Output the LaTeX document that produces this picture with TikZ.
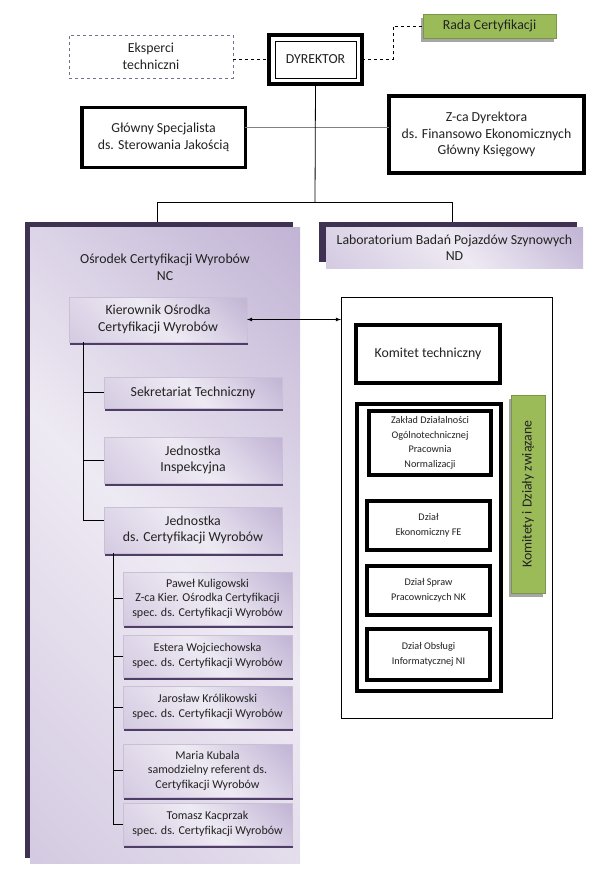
\documentclass[tikz,border=0pt]{standalone}
\usepackage{fontspec}
\setmainfont{Carlito}
\usepackage{xcolor}
\usepackage{tikz}
\usetikzlibrary{arrows,positioning,shadows}

\definecolor{txt}{HTML}{222222}
\definecolor{pdeep}{HTML}{3F3151}
\definecolor{pshadow}{HTML}{4E3D66}
\definecolor{pmid}{HTML}{C9BDDA}
\definecolor{plight}{HTML}{EEEAF3}
\definecolor{pdark}{HTML}{AE9DC8}
\definecolor{pedge}{HTML}{C9C0D6}
\definecolor{olive}{HTML}{9BBB59}
\definecolor{dashc}{HTML}{76708A}

\pgfdeclarehorizontalshading{violetgrad}{100bp}{color(0bp)=(pmid); color(50bp)=(plight); color(100bp)=(pdark)}

\tikzset{
  every node/.style={text=txt, align=center, inner sep=0pt, outer sep=0pt},
  bigtext/.style={font=\fontsize{13.8}{16.5}\selectfont},
  smalltext/.style={font=\fontsize{10.2}{14.5}\selectfont},
  persontext/.style={font=\fontsize{12}{14.5}\selectfont},
  heavybox/.style={draw=black, line width=3.8pt, fill=white},
  violetbox/.style={shading=violetgrad, shading angle=45, draw=pedge, line width=0.4pt,
    drop shadow={shadow xshift=1.2pt, shadow yshift=-2.5pt, fill=pshadow, opacity=1}},
  violetback/.style={fill=pdeep},
  olivebox/.style={fill=olive, draw=olive!80!black, line width=0.3pt,
    drop shadow={shadow xshift=-2pt, shadow yshift=-4pt, fill=black!35, opacity=1}},
  link/.style={draw=black, line width=0.8pt}
}

\begin{document}
\begin{tikzpicture}[x=1pt,y=-1pt]
\useasboundingbox (0,0) rectangle (601,872);

% top row
\node[bigtext, draw=dashc, dashed, line width=0.7pt, minimum width=164, minimum height=43] (eksp) at (151,56.5) {Eksperci\\techniczni};
\node[bigtext, heavybox, line width=4pt, minimum width=93, minimum height=49] (dyr) at (315.5,59.5) {DYREKTOR};
\draw[line width=0.8pt] ([shift={(6,6)}]dyr.north west) rectangle ([shift={(-6,-6)}]dyr.south east);
\node[bigtext, olivebox, minimum width=133, minimum height=24] (rada) at (489.5,26) {Rada Certyfikacji};

\draw[link, dashed] (eksp.east |- dyr) -- (dyr.west);
\coordinate (rd) at (393,0);
\draw[link, dashed] (dyr.east) -| (rd |- rada) -- (rada.west);

% second row
\node[bigtext, heavybox, line width=3.5pt, minimum width=163.5, minimum height=59.5] (glowny) at (163.5,137.5) {G{\l}ówny Specjalista\\ds. Sterowania Jakości{\k a}};
\node[bigtext, heavybox, minimum width=195, minimum height=77] (zca) at (486.5,134.5) {Z-ca Dyrektora\\ds. Finansowo Ekonomicznych\\G{\l}ówny Księgowy};

\coordinate (hz) at (315,127);
\draw[gray, line width=0.8pt] (hz -| glowny.east) -- (hz -| zca.west);

% left panel
\node[violetback, minimum width=268, minimum height=636] (osrback) at (159,540) {};
\node[shading=violetgrad, shading angle=45, minimum width=270, minimum height=636] (osr) at (165,545) {};
\node[bigtext] (osrtitle) at (165,267.5) {Ośrodek Certyfikacji Wyrobów\\NC};

% laboratory
\node[violetback, minimum width=258, minimum height=40] (labback) at (448,242) {};
\node[bigtext, shading=violetgrad, shading angle=45, minimum width=257, minimum height=41] (lab) at (454.5,247.5) {Laboratorium Badań Pojazdów Szynowych\\ND};

% connectors from director
\coordinate (jn) at (315,202);
\coordinate (jl) at (157,202);
\coordinate (jr) at (452,202);
\draw[link] (dyr.south) -- (jn);
\draw[link] (jl |- osrback.north) -- (jl) -- (jr) -- (jr |- labback.north);

% certification centre
\node[bigtext, violetbox, minimum width=178, minimum height=45] (kier) at (158,319.5) {Kierownik Ośrodka\\Certyfikacji Wyrobów};
\node[bigtext, violetbox, minimum width=178, minimum height=31] (sekr) at (193,392.5) {Sekretariat Techniczny};
\node[bigtext, violetbox, minimum width=178, minimum height=46] (insp) at (193,460) {Jednostka\\Inspekcyjna};
\node[bigtext, violetbox, minimum width=178, minimum height=46] (jcw) at (193,530) {Jednostka\\ds. Certyfikacji Wyrobów};

\coordinate (t1) at (83,0);
\draw[link] (kier.south -| t1) |- (sekr.west);
\draw[link] (kier.south -| t1) |- (insp.west);
\draw[link] (kier.south -| t1) |- ([yshift=10pt]jcw.west);

% staff
\node[persontext, violetbox, minimum width=169, minimum height=53] (pk) at (207.5,598.5) {Paweł Kuligowski\\Z-ca Kier. Ośrodka Certyfikacji\\spec. ds. Certyfikacji Wyrobów};
\node[persontext, violetbox, minimum width=169, minimum height=42] (ew) at (207.5,656) {Estera Wojciechowska\\spec. ds. Certyfikacji Wyrobów};
\node[persontext, violetbox, minimum width=169, minimum height=42] (jk) at (207.5,707) {Jarosław Królikowski\\spec. ds. Certyfikacji Wyrobów};
\node[persontext, violetbox, minimum width=169, minimum height=53] (mk) at (207.5,770.5) {Maria Kubala\\samodzielny referent ds.\\Certyfikacji Wyrobów};
\node[persontext, violetbox, minimum width=169, minimum height=42] (tk) at (207.5,824) {Tomasz Kacprzak\\spec. ds. Certyfikacji Wyrobów};

\coordinate (t2) at (113,0);
\foreach \p in {pk,ew,jk,mk,tk}
  \draw[link] (jcw.south -| t2) |- (\p.west);

% committees
\node[draw=black, line width=0.8pt, fill=white, minimum width=211, minimum height=421] (rpanel) at (446.5,507.5) {};
\draw[link, latex-latex] (kier.east) -- (kier.east -| rpanel.west);

\node[bigtext, heavybox, minimum width=144, minimum height=58] (komt) at (428,354) {Komitet techniczny};
\node[heavybox, minimum width=144, minimum height=287] (dzialy) at (429,547.5) {};
\node[smalltext, heavybox, line width=3.5pt, minimum width=122, minimum height=64] (zakl) at (430,443) {Zakład Działalności\\Ogólnotechnicznej\\Pracownia\\Normalizacji};
\node[smalltext, heavybox, line width=3.5pt, minimum width=123, minimum height=49] (ekon) at (428.5,525.5) {Dział\\Ekonomiczny FE};
\node[smalltext, heavybox, line width=3.5pt, minimum width=123, minimum height=49] (kadr) at (428.5,590.5) {Dział Spraw\\Pracowniczych NK};
\node[smalltext, heavybox, line width=3.5pt, minimum width=123, minimum height=51] (inf) at (428.5,654.5) {Dział Obsługi\\Informatycznej NI};

\node[bigtext, olivebox, rotate=90, minimum width=198, minimum height=34] (kdz) at (528,494) {Komitety i Działy związane};
\end{tikzpicture}
\end{document}
